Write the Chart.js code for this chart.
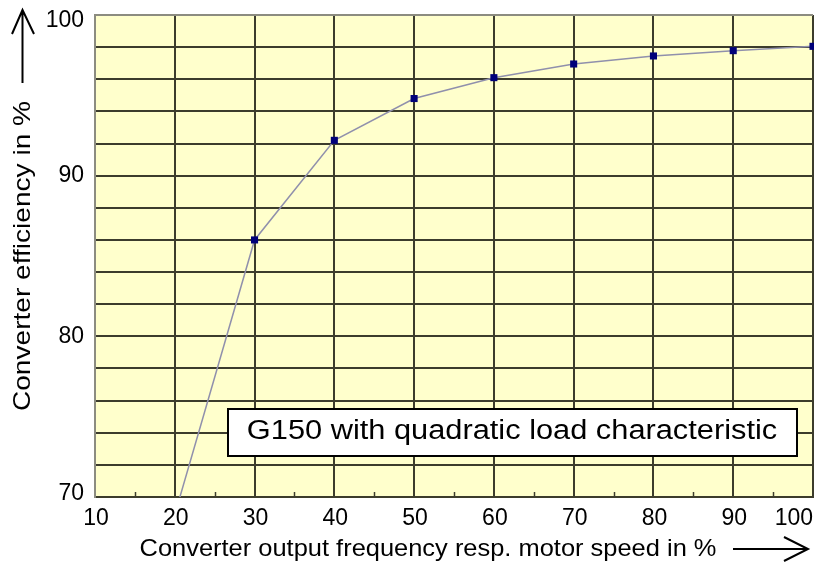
<!DOCTYPE html>
<html>
<head>
<meta charset="utf-8">
<script src="https://cdn.jsdelivr.net/npm/chart.js@4.4.0/dist/chart.umd.min.js"></script>
<style>
  html, body { margin: 0; padding: 0; background: #fff; }
  #wrap { width: 814px; height: 564px; position: relative; }
</style>
</head>
<body>
<div id="wrap"><canvas id="EffChart" width="814" height="564"></canvas></div>
<script>
// values
const speed = [20, 30, 40, 50, 60, 70, 80, 90, 100];
const efficiency = [68.9, 86.0, 92.2, 94.8, 96.1, 96.95, 97.45, 97.78, 98.05];
const xTicks = [10, 20, 30, 40, 50, 60, 70, 80, 90, 100];
const yTicks = [70, 80, 90, 100];
const minorX = [15, 25, 35, 45, 55, 65, 75, 85, 95];

const fontFamily = '"Liberation Sans", Arial, sans-serif';
const gridColor = '#3c3c2c';

const eff_ctx = document.getElementById('EffChart').getContext('2d');

// text stretched sideways a little, the source picture is wider than plain Arial
function wideText(c, text, x, y, size, sx, rot) {
    c.save();
    c.translate(x, y);
    if (rot) c.rotate(rot);
    c.scale(sx, 1);
    c.font = size + 'px ' + fontFamily;
    c.textAlign = 'center';
    c.textBaseline = 'middle';
    c.fillText(text, 0, 0);
    c.restore();
}

const extras = {
    id: 'extras',
    beforeDraw(chart) {
        const a = chart.chartArea, c = chart.ctx;
        c.save();
        c.fillStyle = '#ffffcc';
        c.fillRect(a.left, a.top, a.right - a.left, a.bottom - a.top);
        c.restore();
    },
    beforeDatasetsDraw(chart) {
        const c = chart.ctx, a = chart.chartArea;
        const xs = chart.scales.x;
        // small ticks at the bottom between the decades
        c.save();
        c.strokeStyle = gridColor;
        c.lineWidth = 1.5;
        minorX.forEach(v => {
            const px = Math.round(xs.getPixelForValue(v)) + 0.5;
            c.beginPath();
            c.moveTo(px, a.bottom);
            c.lineTo(px, a.bottom - 5);
            c.stroke();
        });
        c.restore();
    },
    afterDraw(chart) {
        const c = chart.ctx;
        const xs = chart.scales.x, ys = chart.scales.y;
        c.save();

        c.fillStyle = '#000';
        c.font = '23px ' + fontFamily;
        c.textBaseline = 'middle';

        // y tick labels, the top one sits a bit lower
        c.textAlign = 'right';
        yTicks.forEach(v => {
            let py = ys.getPixelForValue(v);
            if (v === 100) py += 6;
            if (v === 70) py -= 3;
            c.fillText(String(v), 84, py);
        });

        // x tick labels
        xTicks.forEach((v, i) => {
            const px = xs.getPixelForValue(v);
            if (i === xTicks.length - 1) {
                c.textAlign = 'right';
                c.fillText(String(v), 813, 519);
            } else {
                c.textAlign = 'center';
                c.fillText(String(v), px + 1, 519);
            }
        });

        // axis titles
        wideText(c, 'Converter output frequency resp. motor speed in %', 428, 549, 24, 1.06);
        wideText(c, 'Converter efficiency in %', 23, 256, 24, 1.17, -Math.PI / 2);

        // arrows
        c.strokeStyle = '#000';
        c.lineWidth = 2;
        c.beginPath();
        c.moveTo(22.5, 83); c.lineTo(22.5, 10);
        c.moveTo(12, 34); c.lineTo(22.5, 10); c.lineTo(34, 34);
        c.moveTo(733, 549); c.lineTo(808, 549);
        c.moveTo(784, 537); c.lineTo(808, 549); c.lineTo(784, 561);
        c.stroke();

        // note box
        c.fillStyle = '#fff';
        c.fillRect(228, 409, 569, 47);
        c.strokeStyle = '#000';
        c.lineWidth = 2;
        c.strokeRect(228, 409, 569, 47);
        c.fillStyle = '#000';
        wideText(c, 'G150 with quadratic load characteristic', 512, 432, 27, 1.14);

        c.restore();
    }
};

const eff_data = {
    datasets: [{
        label: 'Efficiency',
        data: speed.map((s, i) => ({ x: s, y: efficiency[i] })),
        borderColor: '#9090ac',
        borderWidth: 1.5,
        pointStyle: 'rect',
        pointRadius: 5,
        pointBackgroundColor: '#00007a',
        pointBorderColor: '#00007a',
        pointBorderWidth: 0,
        tension: 0,
        clip: { left: 0, right: 6, top: 6, bottom: 0 }
    }]
};

const eff_config = {
    type: 'line',
    data: eff_data,
    options: {
        responsive: false,
        animation: false,
        layout: { autoPadding: false, padding: { left: 0, right: 1, top: 15, bottom: 0 } },
        scales: {
            x: {
                type: 'linear',
                min: 10,
                max: 100,
                ticks: { stepSize: 10, display: false },
                grid: { color: gridColor, lineWidth: 2, drawTicks: false },
                border: { color: gridColor, width: 2 },
                afterFit(scale) {
                    scale.height = 67;
                    scale.paddingLeft = 0;
                    scale.paddingRight = 0;
                }
            },
            y: {
                min: 70,
                max: 100,
                ticks: {
                    stepSize: 2,
                    display: false
                },
                grid: {
                    color: ctx => (ctx.tick && ctx.tick.value === 100 ? '#8c8c80' : gridColor),
                    lineWidth: 2,
                    drawTicks: false
                },
                border: { color: '#8c8c80', width: 2 },
                afterFit(scale) {
                    scale.width = 95;
                    scale.paddingTop = 0;
                    scale.paddingBottom = 0;
                }
            }
        },
        plugins: {
            legend: { display: false },
            title: { display: false },
            tooltip: { enabled: false }
        }
    },
    plugins: [extras]
};

new Chart(eff_ctx, eff_config);
</script>
</body>
</html>
